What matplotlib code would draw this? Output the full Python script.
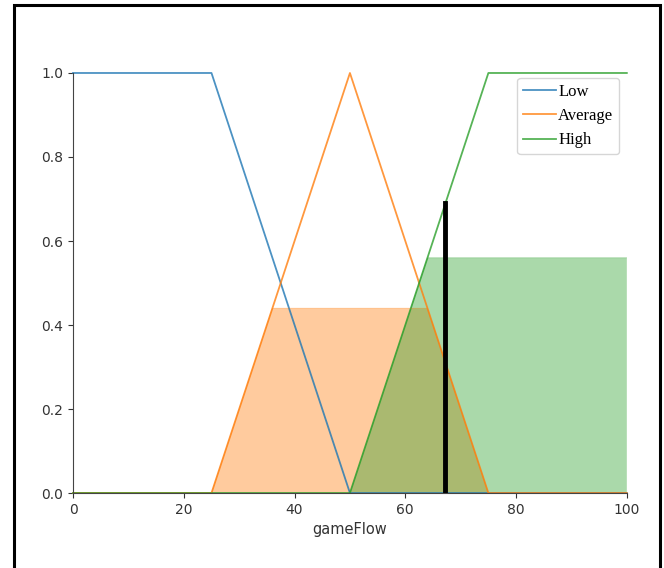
import numpy as np
import matplotlib.pyplot as plt
from matplotlib.patches import Rectangle

# membership function break points (universe 0..100)
universe = np.arange(0, 101, 1)
low_pts = [0, 0, 25, 50]
avg_pts = [25, 50, 75]
high_pts = [50, 75, 100, 100]
labels = ['Low', 'Average', 'High']

# activation levels of the rules and defuzzified result
avg_level = 0.44
high_level = 0.56
crisp_x = 67.2
crisp_y = 0.69


def trapmf(x, p):
    a, b, c, d = p
    y = np.ones_like(x, dtype=float)
    if b > a:
        y = np.where(x < b, (x - a) / (b - a), y)
    if d > c:
        y = np.where(x > c, (d - x) / (d - c), y)
    return np.clip(y, 0, 1)


def trimf(x, p):
    a, b, c = p
    return trapmf(x, [a, b, b, c])


x = np.linspace(0, 100, 1001)
low = trapmf(x, low_pts)
avg = trimf(x, avg_pts)
high = trapmf(x, high_pts)

fig = plt.figure(figsize=(6.64, 5.68), dpi=100)
ax = fig.add_axes([0.11, 0.132, 0.834, 0.7395])

c_low, c_avg, c_high = 'tab:blue', 'tab:orange', 'tab:green'
ax.plot(x, low, color=c_low, lw=1.3, alpha=0.8, label=labels[0], clip_on=False)
ax.plot(x, avg, color=c_avg, lw=1.3, alpha=0.8, label=labels[1], clip_on=False)
ax.plot(x, high, color=c_high, lw=1.3, alpha=0.8, label=labels[2], clip_on=False)

avg_cut = np.fmin(avg, avg_level)
high_cut = np.fmin(high, high_level)
ax.fill_between(x, 0, avg_cut, facecolor=c_avg, alpha=0.4)
ax.fill_between(x, 0, high_cut, facecolor=c_high, alpha=0.4)
ax.plot(x, avg_cut, color=c_avg, lw=0.5, alpha=0.4)
ax.plot(x, high_cut, color=c_high, lw=0.5, alpha=0.4)

ax.plot([crisp_x, crisp_x], [0, crisp_y], color='k', lw=3.5)

ax.set_xlim(0, 100)
ax.set_ylim(0, 1.0)
ax.set_xticks([0, 20, 40, 60, 80, 100])
ax.set_yticks([0.0, 0.2, 0.4, 0.6, 0.8, 1.0])
ax.set_xlabel('gameFlow', fontsize=10.5, color='#333333')
ax.tick_params(labelsize=10, colors='#333333')
ax.spines['top'].set_visible(False)
ax.spines['right'].set_visible(False)
ax.spines['left'].set_color('#444444')
ax.spines['bottom'].set_color('#444444')

ax.legend(loc='upper right', bbox_to_anchor=(0.995, 1.0),
          prop={'family': 'Liberation Serif', 'size': 12},
          handlelength=2.0, handletextpad=0.1, labelspacing=0.5,
          borderpad=0.35, borderaxespad=0.3)

# black frame around the screenshot
fig.patches.append(Rectangle((14 / 664, -0.05), 646 / 664, 1.05 - 5 / 568,
                             transform=fig.transFigure, fill=False,
                             edgecolor='black', lw=2.2))

fig.savefig('out.png', dpi=100)
